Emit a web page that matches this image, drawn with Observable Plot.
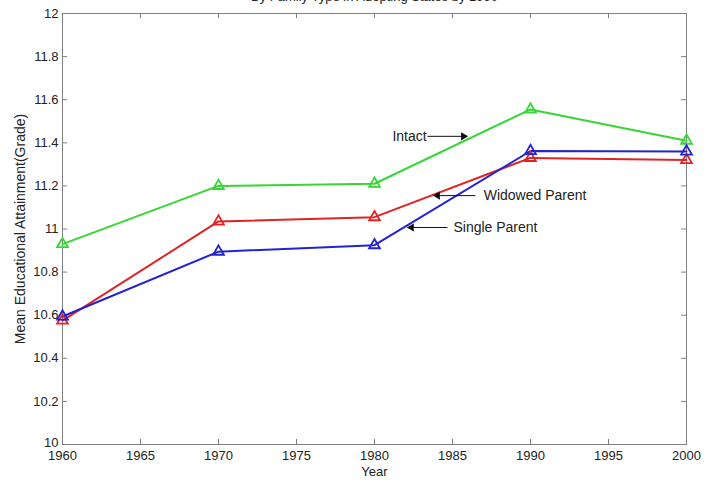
<!DOCTYPE html>
<html><head><meta charset="utf-8">
<script src="https://cdn.jsdelivr.net/npm/d3@7"></script>
<script src="https://cdn.jsdelivr.net/npm/@observablehq/plot@0.6"></script>
<style>body{margin:0;background:#fff;}</style>
</head><body><div id="chart"></div><script>
const years = [1960, 1970, 1980, 1990, 2000];
const intact = [10.93, 11.20, 11.21, 11.555, 11.41];
const widowed = [10.575, 11.035, 11.055, 11.33, 11.32];
const single = [10.594, 10.895, 10.925, 11.362, 11.36];
const seriesNames = ["Intact", "Widowed Parent", "Single Parent"];
const xTicks = [1960, 1965, 1970, 1975, 1980, 1985, 1990, 1995, 2000];
const yTicks = [10, 10.2, 10.4, 10.6, 10.8, 11, 11.2, 11.4, 11.6, 11.8, 12];
const title = "By Family Type in Adopting States by 1990";
const xLabel = "Year";
const yLabel = "Mean Educational Attainment(Grade)";
// annotation labels in data coordinates
const annLabels = [
  {text: "Intact", x: 1981.15, y: 11.43},
  {text: "Widowed Parent", x: 1987.0, y: 11.155},
  {text: "Single Parent", x: 1985.06, y: 11.007}
];
const annArrows = [
  {x1: 1983.4, y1: 11.43, x2: 1985.7, y2: 11.43, dir: 90},
  {x1: 1986.47, y1: 11.155, x2: 1984.04, y2: 11.155, dir: -90},
  {x1: 1984.68, y1: 11.007, x2: 1982.37, y2: 11.007, dir: -90}
];

const colors = {"Intact": "#35d635", "Widowed Parent": "#e02424", "Single Parent": "#2323d2"};
const values = [intact, widowed, single];
const rows = seriesNames.flatMap((s, i) => years.map((yr, j) => ({series: s, year: yr, value: values[i][j]})));

const gray = "#808080";
const ink = "#222";
const chart = Plot.plot({
  width: 707, height: 482,
  marginLeft: 62, marginRight: 21, marginTop: 13, marginBottom: 38,
  style: {fontFamily: "'Liberation Sans', Arial, sans-serif", fontSize: "13px", color: ink, background: "white"},
  x: {domain: [1960, 2000]},
  y: {domain: [10, 12]},
  marks: [
    Plot.ruleX(xTicks, {x: d => d, insetTop: 426, stroke: gray}),
    Plot.ruleX(xTicks, {x: d => d, insetBottom: 426, stroke: gray}),
    Plot.ruleY(yTicks, {y: d => d, insetRight: 619, stroke: gray}),
    Plot.ruleY(yTicks, {y: d => d, insetLeft: 619, stroke: gray}),
    Plot.frame({stroke: gray}),
    Plot.axisX({ticks: xTicks, tickSize: 0, tickPadding: 6, tickFormat: d => String(d), label: null}),
    Plot.axisY({ticks: yTicks.filter(t => t > 10), tickSize: 0, tickPadding: 4, tickFormat: d => String(+d.toFixed(1)), label: null}),
    Plot.axisY({ticks: yTicks.filter(t => t === 10), tickSize: 0, tickPadding: 4, dy: -2, tickFormat: d => String(d), label: null}),
    Plot.text([xLabel], {frameAnchor: "bottom", dy: 31, text: d => d, fill: ink, fontSize: 13}),
    Plot.text([yLabel], {frameAnchor: "left", textAnchor: "middle", dx: -42, rotate: -90, text: d => d, fill: ink, fontSize: 14}),
    Plot.text([title], {frameAnchor: "top", dy: -13, lineAnchor: "bottom", text: d => d, fill: ink, fontSize: 13}),
    Plot.line(rows, {x: "year", y: "value", z: "series", stroke: d => colors[d.series], strokeWidth: 2}),
    Plot.dot(rows, {x: "year", y: "value", symbol: "triangle", r: 4, stroke: d => colors[d.series], strokeWidth: 1.8, fill: "none"}),
    Plot.text(annLabels, {x: "x", y: "y", text: "text", textAnchor: "start", fill: ink, fontSize: 14}),
    Plot.link(annArrows, {x1: "x1", y1: "y1", x2: "x2", y2: "y2", stroke: "#111", strokeWidth: 1}),
    Plot.dot(annArrows, {x: "x2", y: "y2", symbol: "triangle", rotate: "dir", r: 3, fill: "#111", stroke: "none"})
  ]
});
document.getElementById("chart").appendChild(chart);
</script></body></html>
